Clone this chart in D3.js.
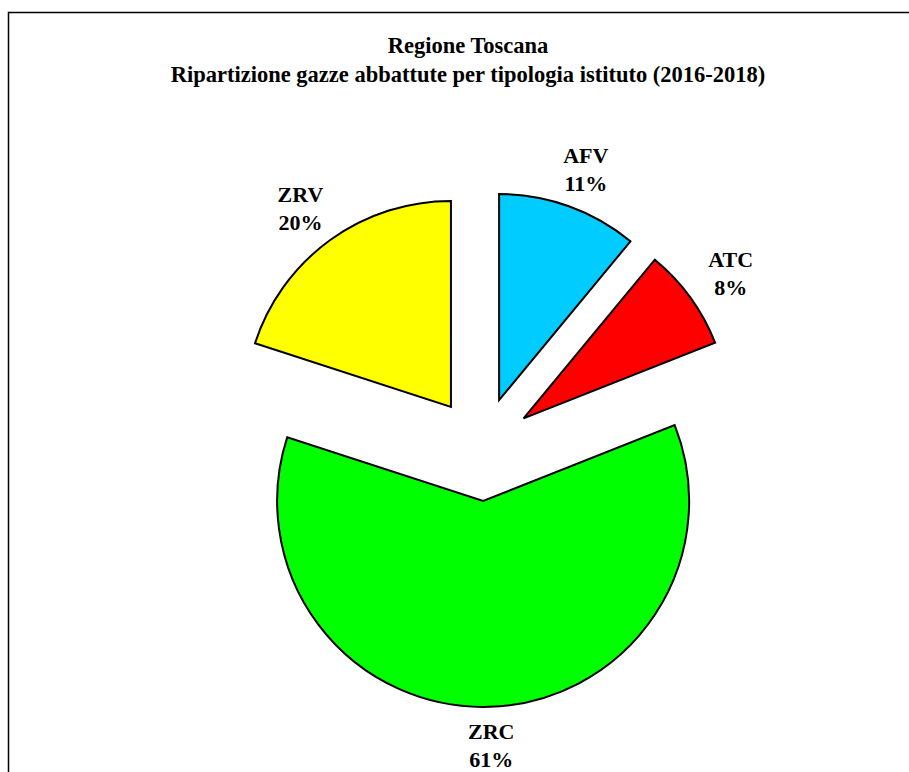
<!DOCTYPE html>
<html>
<head>
<meta charset="utf-8">
<script src="https://cdn.jsdelivr.net/npm/d3@7"></script>
<style>
  body { margin: 0; background: #fff; }
  text { font-family: "Liberation Serif", "Times New Roman", serif; font-weight: bold; fill: #000; }
</style>
</head>
<body>
<svg id="chart"></svg>
<script>
// Data
const categories = ["AFV", "ATC", "ZRC", "ZRV"];
const values = [11, 8, 61, 20];
const percentLabels = ["11%", "8%", "61%", "20%"];
const colors = ["#00ccff", "#ff0000", "#00ff00", "#ffff00"];
const titleLines = ["Regione Toscana", "Ripartizione gazze abbattute per tipologia istituto (2016-2018)"];

// Dimensions
const width = 909;
const height = 772;
const cx = 481.5;
const cy = 449;
const radius = 206;
const explode = 52;
const labelRx = 308;
const labelRy = 297;

const svg = d3.select("#chart").attr("width", width).attr("height", height);

// Chart area border (runs off the right and bottom of the picture)
svg.append("rect")
  .attr("x", 8.5)
  .attr("y", 12.5)
  .attr("width", width + 20)
  .attr("height", height + 20)
  .attr("fill", "#fff")
  .attr("stroke", "#000")
  .attr("stroke-width", 1.5);

// Title
svg.append("g")
  .selectAll("text")
  .data(titleLines)
  .enter()
  .append("text")
  .attr("x", 468)
  .attr("y", (d, i) => 53 + i * 29)
  .attr("text-anchor", "middle")
  .style("font-size", "22.5px")
  .text((d) => d);

const pie = d3.pie().sort(null).value((d) => d);
const arc = d3.arc().innerRadius(0).outerRadius(radius);
const arcs = pie(values);

const midAngle = (d) => (d.startAngle + d.endAngle) / 2;

const g = svg.append("g").attr("transform", `translate(${cx},${cy})`);

// Slices, each pulled out along its middle angle
g.selectAll("path")
  .data(arcs)
  .enter()
  .append("path")
  .attr("d", arc)
  .attr("fill", (d, i) => colors[i])
  .attr("stroke", "#000")
  .attr("stroke-width", 2)
  .attr("stroke-linejoin", "miter")
  .attr("transform", (d) => {
    const a = midAngle(d);
    return `translate(${explode * Math.sin(a)},${-explode * Math.cos(a)})`;
  });

// Labels: category on the first line, percent on the second
const labels = g.selectAll("g.label")
  .data(arcs)
  .enter()
  .append("g")
  .attr("class", "label")
  .attr("transform", (d) => {
    const a = midAngle(d);
    return `translate(${labelRx * Math.sin(a)},${-labelRy * Math.cos(a)})`;
  });

labels.append("text")
  .attr("text-anchor", "middle")
  .attr("y", -7)
  .style("font-size", "22px")
  .text((d, i) => categories[i]);

labels.append("text")
  .attr("text-anchor", "middle")
  .attr("y", 21)
  .style("font-size", "22px")
  .text((d, i) => percentLabels[i]);
</script>
</body>
</html>
